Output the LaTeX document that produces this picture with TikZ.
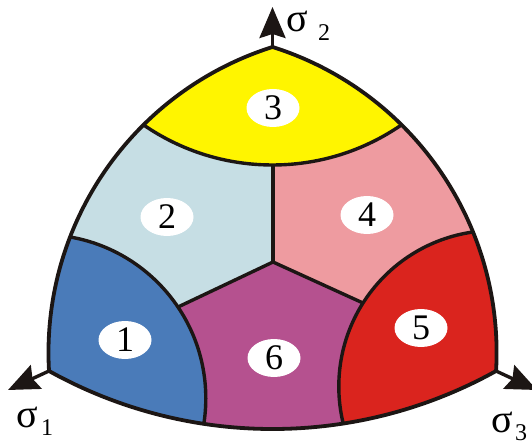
\documentclass[tikz,border=0pt]{standalone}
\usepackage{fontspec}
\setmainfont{Liberation Serif}
\usetikzlibrary{shapes.geometric,arrows.meta}
\definecolor{cOne}{RGB}{74,123,185}
\definecolor{cTwo}{RGB}{198,222,228}
\definecolor{cThree}{RGB}{255,245,0}
\definecolor{cFour}{RGB}{238,155,160}
\definecolor{cFive}{RGB}{218,36,30}
\definecolor{cSix}{RGB}{181,81,143}
\definecolor{ink}{RGB}{28,22,20}
\begin{document}
\begin{tikzpicture}[x=1pt,y=1pt,
  seam/.style={draw=ink,line width=3.4pt,line cap=round},
  border/.style={draw=ink,line width=3.8pt,line join=round},
  axis/.style={draw=ink,line width=3.4pt,-{Stealth[length=31pt,width=26pt,inset=4pt]}},
  lab/.style={ellipse,fill=white,inner sep=0pt,minimum width=53pt,minimum height=38pt},
  sig/.style={inner sep=0pt},
  sub/.style={inner sep=0pt}]
\useasboundingbox (0,0) rectangle (532,447);
% vertices
\coordinate (T) at (272.5,400);
\coordinate (L) at (49,76);
\coordinate (R) at (496,76);
% interior
\coordinate (C) at (273,185);
\coordinate (vtop) at (273,320);
\coordinate (P1far) at (-12,50);
\coordinate (P2far) at (543,62);
\coordinate (Ycen) at (272.5,509.3);
\coordinate (Bcen) at (42,48.6);
\coordinate (Rcen) at (494.8,60.5);
% arrow tips
\coordinate (tipTwo) at (272.5,440);
\coordinate (tipOne) at (8,57);
\coordinate (tipThree) at (537,57);
\def\outerpath{(T) arc[start angle=107.52,end angle=183.29,radius=320.5]
  arc[start angle=-119.10,end angle=-60.90,radius=459.6]
  arc[start angle=-3.29,end angle=72.48,radius=320.5] -- cycle}
\begin{scope}
  \clip \outerpath;
  \fill[cSix] (0,0) rectangle (532,447);
  \fill[cTwo] (C) -- (273,460) -- (-20,460) -- (-20,46.2) -- cycle;
  \fill[cFour] (C) -- (273,460) -- (560,460) -- (560,54.3) -- cycle;
  \draw[seam] (C) -- (vtop);
  \draw[seam] (C) -- (P1far);
  \draw[seam] (C) -- (P2far);
  \fill[cThree] (Ycen) circle[radius=227.3];
  \fill[cOne] (Bcen) circle[radius=163.8];
  \fill[cFive] (Rcen) circle[radius=156];
  \draw[seam] (Ycen) circle[radius=227.3];
  \draw[seam] (Bcen) circle[radius=163.8];
  \draw[seam] (Rcen) circle[radius=156];
\end{scope}
\draw[axis] (T) -- (tipTwo);
\draw[axis] (L) -- (tipOne);
\draw[axis] (R) -- (tipThree);
\draw[border] \outerpath;
% labels
\node[lab] (n3) at (273,339) {\fontsize{36}{36}\selectfont 3};
\node[lab] (n2) at (167,230) {\fontsize{36}{36}\selectfont 2};
\node[lab] (n4) at (367,232) {\fontsize{36}{36}\selectfont 4};
\node[lab] (n1) at (125,107) {\fontsize{36}{36}\selectfont 1};
\node[lab] (n6) at (274,89) {\fontsize{36}{36}\selectfont 6};
\node[lab] (n5) at (421,119) {\fontsize{36}{36}\selectfont 5};
% axis names
\node[sig] (sTwo) at (297,426) {\fontsize{40}{40}\selectfont σ};
\node[sub] (sTwoi) at (324,414) {\fontsize{24}{24}\selectfont 2};
\node[sig] (sOne) at (27,30) {\fontsize{40}{40}\selectfont σ};
\node[sub] (sOnei) at (47,19) {\fontsize{24}{24}\selectfont 1};
\node[sig] (sThree) at (502,25) {\fontsize{40}{40}\selectfont σ};
\node[sub] (sThreei) at (521,14) {\fontsize{24}{24}\selectfont 3};
\end{tikzpicture}
\end{document}
